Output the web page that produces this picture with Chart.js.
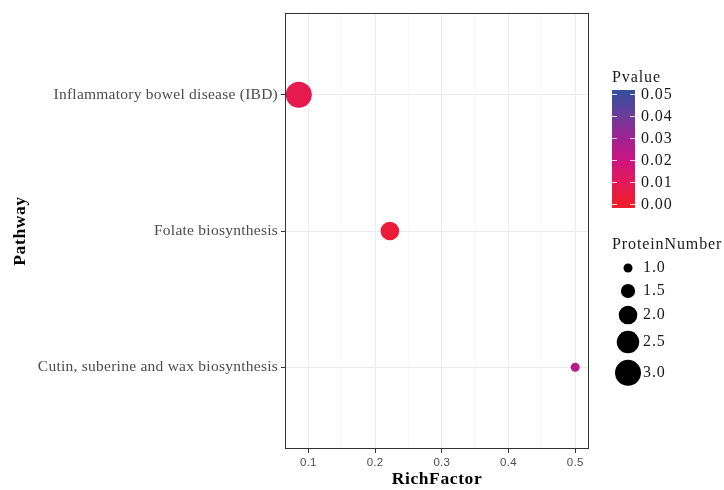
<!DOCTYPE html>
<html>
<head>
<meta charset="utf-8">
<script src="https://cdn.jsdelivr.net/npm/chart.js@4/dist/chart.umd.min.js"></script>
<style>
  html, body { margin: 0; padding: 0; background: #fff; }
  #wrap { width: 724px; height: 490px; position: relative; }
</style>
</head>
<body>
<div id="wrap"><canvas id="c" width="724" height="490"></canvas></div>
<script>
// Enrichment bubble plot data
const pathways = ['Inflammatory bowel disease (IBD)', 'Folate biosynthesis', 'Cutin, suberine and wax biosynthesis'];
const richFactor = [0.0857, 0.2222, 0.5];
const pValues = [0.0075, 0.0025, 0.024];
const proteinNumber = [3, 2, 1];
const xTickLabels = [0.1, 0.2, 0.3, 0.4, 0.5];
const pTickLabels = [0.00, 0.01, 0.02, 0.03, 0.04, 0.05];
const sizeBreaks = [1.0, 1.5, 2.0, 2.5, 3.0];

// Colour ramp for p-values (red -> magenta -> blue)
const rampStops = [
  [0.000, [238, 28, 44]],
  [0.010, [228, 25, 90]],
  [0.020, [203, 20, 128]],
  [0.030, [160, 34, 146]],
  [0.040, [108, 60, 152]],
  [0.050, [58, 76, 156]]
];
function pColor(p) {
  for (let i = 1; i < rampStops.length; i++) {
    if (p <= rampStops[i][0]) {
      const [p0, c0] = rampStops[i - 1], [p1, c1] = rampStops[i];
      const t = (p - p0) / (p1 - p0);
      const c = c0.map((v, k) => Math.round(v + (c1[k] - v) * t));
      return `rgb(${c[0]},${c[1]},${c[2]})`;
    }
  }
  const c = rampStops[rampStops.length - 1][1];
  return `rgb(${c[0]},${c[1]},${c[2]})`;
}

// Area-style size scale
const R_MIN = 4.5, R_MAX = 13;
const nMin = Math.min(...sizeBreaks), nMax = Math.max(...sizeBreaks);
function radius(n) {
  const t = (Math.sqrt(n) - Math.sqrt(nMin)) / (Math.sqrt(nMax) - Math.sqrt(nMin));
  return R_MIN + t * (R_MAX - R_MIN);
}

// x range with 5% expansion, y discrete with 0.6 expansion
const xLo = Math.min(...richFactor), xHi = Math.max(...richFactor);
const xPad = (xHi - xLo) * 0.05;
const nCat = pathways.length;

const points = pathways.map((p, i) => ({ x: richFactor[i], y: nCat - i }));

const SERIF = '"Liberation Serif", "DejaVu Serif", serif';
const SANS = '"Liberation Sans", Arial, sans-serif';

const PANEL = { left: 285, right: 589, top: 10, bottom: 449 };

const textSpacing = {
  id: 'textSpacing',
  beforeDraw(chart) {
    chart.ctx.letterSpacing = '0.25px';
  }
};

const decorations = {
  id: 'decorations',
  afterDatasetsDraw(chart) {
    const ctx = chart.ctx;
    const a = chart.chartArea;
    ctx.save();
    // panel border
    ctx.strokeStyle = '#333333';
    ctx.lineWidth = 1;
    ctx.strokeRect(Math.round(a.left) + 0.5, Math.round(a.top) + 0.5,
                   Math.round(a.right - a.left) - 1, Math.round(a.bottom - a.top) - 1);

    // axis titles
    ctx.fillStyle = '#000';
    ctx.letterSpacing = '0.6px';
    ctx.font = 'bold 17.5px ' + SERIF;
    ctx.textAlign = 'center';
    ctx.textBaseline = 'middle';
    ctx.fillText('RichFactor', (a.left + a.right) / 2, 479);
    ctx.save();
    ctx.translate(20, (a.top + a.bottom) / 2);
    ctx.rotate(-Math.PI / 2);
    ctx.fillText('Pathway', 0, 0);
    ctx.restore();

    // colour bar legend
    const barL = 612, barR = 635, y0 = 204, y5 = 94;
    const pMax = pTickLabels[pTickLabels.length - 1];
    const barTop = y5 - 4, barBot = y0 + 4;
    const yOf = p => y0 + (y5 - y0) * (p / pMax);
    const grad = ctx.createLinearGradient(0, barBot, 0, barTop);
    const pBot = (barBot - y0) / (y5 - y0) * pMax;
    const pTop = (barTop - y0) / (y5 - y0) * pMax;
    for (let k = 0; k <= 40; k++) {
      const t = k / 40;
      const p = Math.max(0, Math.min(pMax, pBot + (pTop - pBot) * t));
      grad.addColorStop(t, pColor(p));
    }
    ctx.fillStyle = grad;
    ctx.fillRect(barL, barTop, barR - barL, barBot - barTop);
    ctx.strokeStyle = 'rgba(255,255,255,0.8)';
    ctx.lineWidth = 1;
    ctx.fillStyle = '#1a1a1a';
    ctx.letterSpacing = '0.9px';
    ctx.font = '16px ' + SERIF;
    ctx.textAlign = 'left';
    ctx.textBaseline = 'middle';
    pTickLabels.forEach(p => {
      const y = Math.round(yOf(p)) + 0.5;
      ctx.beginPath();
      ctx.moveTo(barL, y); ctx.lineTo(barL + 5, y);
      ctx.moveTo(barR - 5, y); ctx.lineTo(barR, y);
      ctx.stroke();
      ctx.fillText(p.toFixed(2), 641, y);
    });
    ctx.fillText('Pvalue', 612, 78);

    // size legend
    ctx.fillText('ProteinNumber', 612, 245);
    let cy = 268;
    let prevH = null;
    sizeBreaks.forEach((n) => {
      const r = radius(n);
      const h = Math.max(23, 2 * r + 6.5);
      if (prevH !== null) cy += (prevH + h) / 2;
      prevH = h;
      ctx.fillStyle = '#000';
      ctx.beginPath();
      ctx.arc(628, cy, r, 0, Math.PI * 2);
      ctx.fill();
      ctx.fillStyle = '#1a1a1a';
      ctx.fillText(n.toFixed(1), 643, cy);
    });
    ctx.restore();
  }
};

new Chart(document.getElementById('c'), {
  type: 'scatter',
  data: {
    datasets: [{
      data: points,
      pointRadius: proteinNumber.map(radius),
      pointHoverRadius: proteinNumber.map(radius),
      pointBackgroundColor: pValues.map(pColor),
      pointBorderWidth: 0,
      pointBorderColor: 'rgba(0,0,0,0)',
      clip: false
    }]
  },
  options: {
    responsive: false,
    animation: false,
    events: [],
    layout: { padding: { left: 0, right: 724 - PANEL.right, top: PANEL.top, bottom: 0 } },
    plugins: { legend: { display: false }, tooltip: { enabled: false } },
    scales: {
      x: {
        type: 'linear',
        min: xLo - xPad,
        max: xHi + xPad,
        afterFit(scale) { scale.height = 490 - PANEL.bottom; },
        afterBuildTicks(scale) {
          const ticks = [];
          for (let v = 0.05; v <= 0.5001; v += 0.05) {
            const val = Math.round(v * 100) / 100;
            if (val >= scale.min && val <= scale.max) ticks.push({ value: val });
          }
          scale.ticks = ticks;
        },
        ticks: {
          autoSkip: false,
          maxRotation: 0,
          padding: 3,
          color: '#4D4D4D',
          font: { family: SANS, size: 11.5 },
          callback(v) {
            const major = xTickLabels.find(t => Math.abs(t - v) < 1e-6);
            return major !== undefined ? String(major) : '';
          }
        },
        grid: {
          drawOnChartArea: true,
          tickLength: 4,
          color(ctx) {
            const v = ctx.tick ? ctx.tick.value : 0;
            const major = xTickLabels.some(t => Math.abs(t - v) < 1e-6);
            return major ? '#EBEBEB' : '#F2F2F2';
          },
          lineWidth(ctx) {
            const v = ctx.tick ? ctx.tick.value : 0;
            return xTickLabels.some(t => Math.abs(t - v) < 1e-6) ? 1 : 0.6;
          },
          tickColor(ctx) {
            const v = ctx.tick ? ctx.tick.value : 0;
            return xTickLabels.some(t => Math.abs(t - v) < 1e-6) ? '#333333' : 'rgba(0,0,0,0)';
          }
        },
        border: { display: false }
      },
      y: {
        type: 'linear',
        min: 1 - 0.6,
        max: nCat + 0.6,
        afterFit(scale) { scale.width = PANEL.left; },
        afterBuildTicks(scale) {
          scale.ticks = pathways.map((p, i) => ({ value: nCat - i }));
        },
        ticks: {
          autoSkip: false,
          padding: 3,
          color: '#4D4D4D',
          font: { family: SERIF, size: 15.5 },
          callback(v) { return pathways[nCat - v]; }
        },
        grid: {
          color: '#EBEBEB',
          lineWidth: 1,
          tickLength: 4,
          tickColor: '#333333'
        },
        border: { display: false }
      }
    }
  },
  plugins: [textSpacing, decorations]
});
</script>
</body>
</html>
